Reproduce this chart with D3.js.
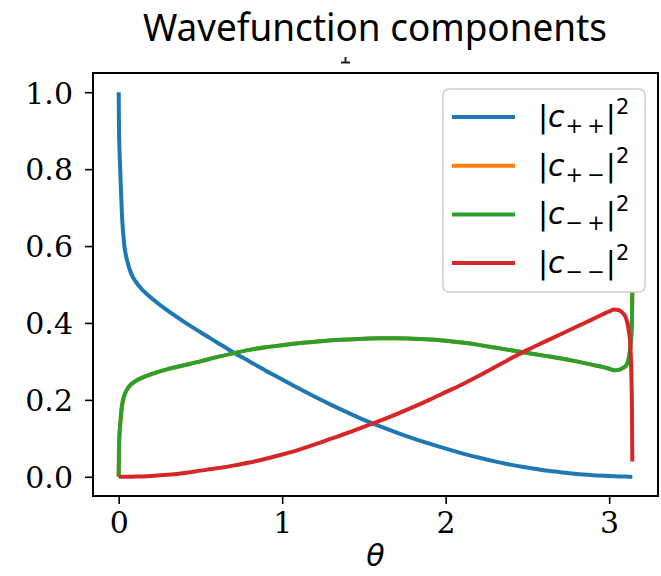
<!DOCTYPE html>
<html lang="en">
<head>
    <meta charset="UTF-8">
    <script src="https://d3js.org/d3.v7.min.js"></script>
    <style>
        body {
            margin: 0;
            background: white;
        }
        .tick text {
            font-family: "DejaVu Serif", serif;
            font-size: 30px;
            fill: black;
        }
        .legend text {
            font-family: "DejaVu Sans", sans-serif;
            font-size: 30px;
        }
    </style>
</head>
<body>
    <svg id="chart"></svg>

    <script>
        // theta grid (denser near the ends where the curves turn sharply)
        const theta = [0, 0.002, 0.005, 0.01, 0.02, 0.035, 0.05, 0.075, 0.1, 0.15, 0.2, 0.3, 0.4, 0.5,
            0.6, 0.7, 0.8, 0.9, 1.0, 1.1, 1.2, 1.3, 1.4, 1.5, 1.6, 1.7, 1.8, 1.9, 2.0, 2.1, 2.2, 2.3,
            2.4, 2.5, 2.6, 2.7, 2.8, 2.9, 3.0, 3.03, 3.06, 3.085, 3.105, 3.12, 3.13, 3.136, 3.1395, 3.1416];

        const cPlusPlus = [1.0, 0.90, 0.85, 0.79, 0.68, 0.60, 0.565, 0.53, 0.51, 0.484, 0.465, 0.432, 0.403, 0.376,
            0.350, 0.324, 0.300, 0.276, 0.253, 0.230, 0.208, 0.187, 0.167, 0.148, 0.131, 0.115, 0.100, 0.086,
            0.073, 0.061, 0.050, 0.040, 0.031, 0.024, 0.017, 0.012, 0.007, 0.004, 0.002, 0.0015, 0.001, 0.0008,
            0.0005, 0.0003, 0.0002, 0.0001, 0.0, 0.0];

        // |c+-|^2 sits exactly under |c-+|^2 in the picture
        const cPlusMinus = [0, 0.08, 0.11, 0.14, 0.185, 0.212, 0.226, 0.24, 0.248, 0.259, 0.267, 0.28, 0.29, 0.3,
            0.311, 0.321, 0.33, 0.337, 0.342, 0.347, 0.351, 0.355, 0.357, 0.359, 0.36, 0.36, 0.359, 0.357,
            0.354, 0.349, 0.343, 0.336, 0.329, 0.322, 0.315, 0.308, 0.3, 0.291, 0.281, 0.277, 0.278, 0.283,
            0.29, 0.308, 0.338, 0.37, 0.415, 0.48];

        const cMinusPlus = [0, 0.08, 0.11, 0.14, 0.185, 0.212, 0.226, 0.24, 0.248, 0.259, 0.267, 0.28, 0.29, 0.3,
            0.311, 0.321, 0.33, 0.337, 0.342, 0.347, 0.351, 0.355, 0.357, 0.359, 0.36, 0.36, 0.359, 0.357,
            0.354, 0.349, 0.343, 0.336, 0.329, 0.322, 0.315, 0.308, 0.3, 0.291, 0.281, 0.277, 0.278, 0.283,
            0.29, 0.308, 0.338, 0.37, 0.415, 0.48];

        const cMinusMinus = [0, 0, 0, 0, 0, 0, 0, 0.0002, 0.0005, 0.001, 0.002, 0.005, 0.01, 0.016,
            0.022, 0.029, 0.037, 0.047, 0.058, 0.07, 0.084, 0.099, 0.114, 0.13, 0.146, 0.163, 0.181, 0.2,
            0.22, 0.24, 0.262, 0.285, 0.308, 0.33, 0.35, 0.37, 0.39, 0.41, 0.43, 0.435, 0.433, 0.425,
            0.41, 0.38, 0.338, 0.26, 0.17, 0.04];

        const seriesNames = [["+", "+"], ["+", "\u2212"], ["\u2212", "+"], ["\u2212", "\u2212"]];
        const seriesColors = ["#1f77b4", "#ff7f0e", "#2ca02c", "#d62728"];
        const seriesValues = [cPlusPlus, cPlusMinus, cMinusPlus, cMinusMinus];

        const xTicks = [0, 1, 2, 3];
        const yTicks = [0.0, 0.2, 0.4, 0.6, 0.8, 1.0];

        const width = 661, height = 576;
        const margin = {top: 73, right: 3, bottom: 80, left: 93};

        const svg = d3.select("#chart")
            .attr("width", width)
            .attr("height", height);

        // title
        svg.append("text")
            .attr("x", 375)
            .attr("y", 41)
            .attr("text-anchor", "middle")
            .attr("font-family", "'Noto Sans', sans-serif")
            .attr("font-size", 38)
            .attr("textLength", 464)
            .attr("lengthAdjust", "spacingAndGlyphs")
            .text("Wavefunction components");

        // leftover foot of the original title, cut off above the axes
        svg.append("path")
            .attr("d", "M341,62.5 H350 M345.5,62.5 V57")
            .attr("stroke", "#222")
            .attr("stroke-width", 2)
            .attr("fill", "none");

        const x = d3.scaleLinear()
            .domain([-0.1571, 3.2987])
            .range([margin.left, width - margin.right]);

        const y = d3.scaleLinear()
            .domain([-0.05, 1.05])
            .range([height - margin.bottom, margin.top]);

        const xAxis = svg.append("g")
            .attr("transform", `translate(0,${height - margin.bottom})`)
            .call(d3.axisBottom(x).tickValues(xTicks).tickFormat(d3.format("d"))
                .tickSize(8).tickPadding(8));

        const yAxis = svg.append("g")
            .attr("transform", `translate(${margin.left},0)`)
            .call(d3.axisLeft(y).tickValues(yTicks).tickFormat(d3.format(".1f"))
                .tickSize(8).tickPadding(12));

        [xAxis, yAxis].forEach(g => {
            g.select(".domain").remove();
            g.selectAll(".tick line").attr("stroke", "black").attr("stroke-width", 1.6);
        });
        yAxis.selectAll(".tick text").attr("dy", "0.36em");

        // curves
        const line = d3.line()
            .x(d => x(d[0]))
            .y(d => y(d[1]))
            .curve(d3.curveMonotoneX);

        seriesValues.forEach((vals, i) => {
            svg.append("path")
                .datum(theta.map((t, j) => [t, vals[j]]))
                .attr("fill", "none")
                .attr("stroke", seriesColors[i])
                .attr("stroke-width", 4)
                .attr("stroke-linejoin", "round")
                .attr("d", line);
        });

        // frame
        svg.append("rect")
            .attr("x", margin.left)
            .attr("y", margin.top)
            .attr("width", width - margin.left - margin.right)
            .attr("height", height - margin.top - margin.bottom)
            .attr("fill", "none")
            .attr("stroke", "black")
            .attr("stroke-width", 2);

        // x label
        svg.append("text")
            .attr("x", (margin.left + width - margin.right) / 2)
            .attr("y", 566)
            .attr("text-anchor", "middle")
            .attr("font-family", "'DejaVu Sans', sans-serif")
            .attr("font-style", "italic")
            .attr("font-size", 30)
            .text("\u03b8");

        // legend
        const legend = svg.append("g").attr("class", "legend");
        legend.append("rect")
            .attr("x", 443)
            .attr("y", 89)
            .attr("width", 202)
            .attr("height", 203)
            .attr("rx", 6)
            .attr("fill", "white")
            .attr("fill-opacity", 0.8)
            .attr("stroke", "#cccccc")
            .attr("stroke-width", 1.5);

        seriesNames.forEach((s, i) => {
            const ly = 117 + i * 48.7;
            legend.append("line")
                .attr("x1", 452).attr("x2", 515)
                .attr("y1", ly).attr("y2", ly)
                .attr("stroke", seriesColors[i])
                .attr("stroke-width", 4);

            const t = legend.append("text")
                .attr("x", 538)
                .attr("y", ly + 10);
            t.append("tspan").text("|");
            t.append("tspan").attr("font-style", "italic").text("c");
            t.append("tspan").attr("font-size", 21).attr("dy", 6).attr("dx", 1).text(s[0]);
            t.append("tspan").attr("font-size", 21).attr("dx", 4).text(s[1]);
            t.append("tspan").attr("dy", -6).attr("dx", 1).text("|");
            t.append("tspan").attr("font-size", 21).attr("dy", -13).text("2");
        });
    </script>
</body>
</html>
